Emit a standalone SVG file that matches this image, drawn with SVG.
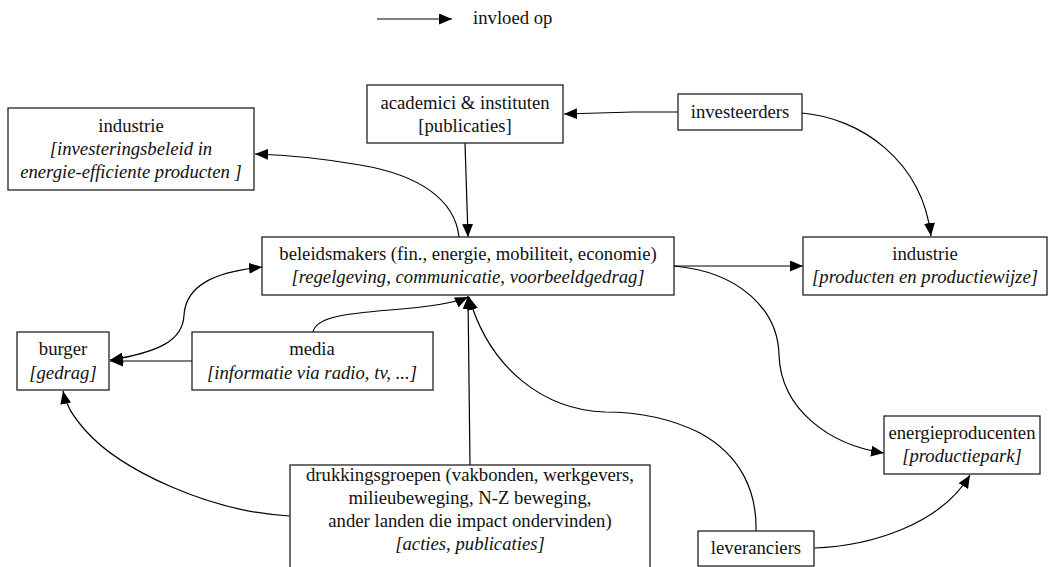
<svg xmlns="http://www.w3.org/2000/svg" width="1048" height="567" viewBox="0 0 1048 567">
  <defs>
    <marker id="arrow" viewBox="0 0 13 11" refX="13" refY="5.5" markerWidth="13" markerHeight="11" markerUnits="userSpaceOnUse" orient="auto-start-reverse">
      <path d="M0,0 L13,5.5 L0,11 z" fill="#000"/>
    </marker>
    <style>
      .box { fill: #fff; stroke: #222; stroke-width: 1.3; }
      .t { font-size: 18.7px; fill: #111; text-anchor: middle; }
      .i { font-style: italic; }
      .edge { fill: none; stroke: #000; stroke-width: 1.2; }
      .end { marker-end: url(#arrow); }
    </style>
  </defs>
  <rect width="1048" height="567" fill="#fff"/>

  <g font-family="Liberation Serif, Tinos, DejaVu Serif, Times New Roman, serif">

  <!-- legend -->
  <g id="legend">
    <path class="edge end" d="M377,19 L452,19"/>
    <text class="t" x="473" y="24" text-anchor="start" style="text-anchor:start">invloed op</text>
  </g>

  <!-- connectors -->
  <g id="connectors">
    <!-- investeerders -> academici -->
    <path class="edge end" d="M678,112 L633,112 L564,114"/>
    <!-- investeerders -> industrie (producten) -->
    <path class="edge end" d="M802,113 C860,118 922,160 931,236"/>
    <!-- academici -> beleidsmakers -->
    <path class="edge end" d="M465,143 L468,237"/>
    <!-- beleidsmakers -> industrie (investeringsbeleid) -->
    <path class="edge end" d="M459,237 C455,200 420,175 360,165 C320,158 290,155 255,154"/>
    <!-- beleidsmakers -> industrie (producten) -->
    <path class="edge end" d="M674,266 L803,266"/>
    <!-- beleidsmakers -> energieproducenten -->
    <path class="edge end" d="M674,266 C740,272 778,310 779,355 C781,410 830,445 884,453"/>
    <!-- burger <-> beleidsmakers -->
    <path class="edge end" style="marker-start:url(#arrow)" d="M110,360 C160,352 183,340 184,315 C186,285 215,272 262,267"/>
    <!-- media -> burger -->
    <path class="edge end" d="M192,361 L110,361"/>
    <!-- media -> beleidsmakers -->
    <path class="edge end" d="M313,332 C316,318 340,314 390,310 C430,307 455,303 468,297"/>
    <!-- drukkingsgroepen -> beleidsmakers -->
    <path class="edge end" d="M470,465 L468,296"/>
    <!-- drukkingsgroepen -> burger -->
    <path class="edge end" d="M290,516 C210,512 120,470 85,430 C72,415 66,405 63,391"/>
    <!-- leveranciers -> beleidsmakers -->
    <path class="edge end" d="M756,531 C757,490 740,455 700,433 C670,418 640,412 605,412 C545,410 490,370 469,297"/>
    <!-- leveranciers -> energieproducenten -->
    <path class="edge end" d="M814,548 C870,546 940,525 970,475"/>
  </g>

  <g id="industrie-beleid">
    <rect class="box" x="8" y="108" width="246" height="82"/>
    <text class="t" x="131" y="132">industrie</text>
    <text class="t i" x="131" y="155">[investeringsbeleid in</text>
    <text class="t i" x="131" y="178">energie-efficiente producten ]</text>
  </g>

  <g id="academici">
    <rect class="box" x="367" y="85" width="196" height="58"/>
    <text class="t" x="465" y="109">academici &amp; instituten</text>
    <text class="t" x="465" y="132">[publicaties]</text>
  </g>

  <g id="investeerders">
    <rect class="box" x="678" y="94" width="124" height="36"/>
    <text class="t" x="740" y="118">investeerders</text>
  </g>

  <g id="beleidsmakers">
    <rect class="box" x="262" y="237" width="412" height="58"/>
    <text class="t" x="468" y="260">beleidsmakers (fin., energie, mobiliteit, economie)</text>
    <text class="t i" x="468" y="283">[regelgeving, communicatie, voorbeeldgedrag]</text>
  </g>

  <g id="industrie-producten">
    <rect class="box" x="803" y="237" width="244" height="58"/>
    <text class="t" x="925" y="260">industrie</text>
    <text class="t i" x="925" y="283">[producten en productiewijze]</text>
  </g>

  <g id="burger">
    <rect class="box" x="17" y="332" width="92" height="58"/>
    <text class="t" x="63" y="355">burger</text>
    <text class="t i" x="63" y="379">[gedrag]</text>
  </g>

  <g id="media">
    <rect class="box" x="192" y="332" width="241" height="58"/>
    <text class="t" x="312" y="355">media</text>
    <text class="t i" x="312" y="379">[informatie via radio, tv, ...]</text>
  </g>

  <g id="energieproducenten">
    <rect class="box" x="884" y="416" width="156" height="58"/>
    <text class="t" x="962" y="439">energieproducenten</text>
    <text class="t i" x="962" y="462">[productiepark]</text>
  </g>

  <g id="drukkingsgroepen">
    <rect class="box" x="290" y="465" width="360" height="106"/>
    <text class="t" x="470" y="481">drukkingsgroepen (vakbonden, werkgevers,</text>
    <text class="t" x="470" y="504">milieubeweging, N-Z beweging,</text>
    <text class="t" x="470" y="527">ander landen die impact ondervinden)</text>
    <text class="t i" x="470" y="550">[acties, publicaties]</text>
  </g>

  <g id="leveranciers">
    <rect class="box" x="698" y="531" width="116" height="35"/>
    <text class="t" x="756" y="554">leveranciers</text>
  </g>

  </g>
</svg>
